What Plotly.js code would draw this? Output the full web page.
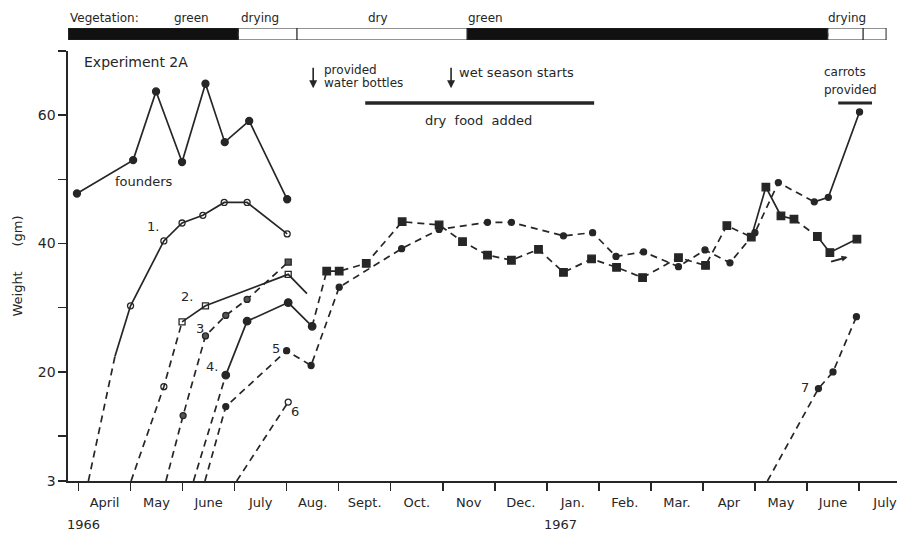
<!DOCTYPE html>
<html><head><meta charset="utf-8">
<script src="https://cdn.plot.ly/plotly-3.0.1.min.js"></script>
<style>html,body{margin:0;padding:0;background:#fff}#chart{width:911px;height:533px}</style>
</head><body><div id="chart"></div>
<script>
// x unit: months, 0 = 1 April 1966, 4 = 1 Aug 1966, 9 = 1 Jan 1967, 15 = 1 July 1967
// y unit: body weight in grams (3 = birth baseline)
const monthLabels = ["April","May","June","July","Aug.","Sept.","Oct.","Nov","Dec.","Jan.","Feb.","Mar.","Apr","May","June","July"];
const yearLabels = ["1966","1967"];

const foundersX = [-0.03,1.05,1.49,1.99,2.44,2.81,3.28,4.01];
const foundersY = [47.8,53.0,63.7,52.7,64.9,55.8,59.1,46.9];

const s1X = [0.19,0.70,1.00,1.64,1.99,2.39,2.80,3.24,4.01];
const s1Y = [3,22.4,30.3,40.4,43.2,44.4,46.4,46.4,41.5];

const s2X = [1.01,1.64,1.99,2.44,4.03,4.39];
const s2Y = [3,17.7,27.8,30.3,35.2,32.2];

const s3X = [1.68,2.01,2.44,2.83,3.24,4.03];
const s3Y = [3,13.2,25.6,28.8,31.3,37.1];

const s4X = [2.21,2.83,3.24,4.03,4.49,4.77,5.01,5.53,6.22,6.93,7.38,7.86,8.32,8.84,9.32,9.86,10.34,10.84,11.53,12.05,12.46,12.93,13.21,13.50,13.75,14.20,14.44,14.96];
const s4Y = [3,19.5,27.9,30.8,27.1,35.7,35.7,36.9,43.4,42.9,40.3,38.2,37.4,39.1,35.5,37.6,36.3,34.7,37.8,36.6,42.8,41.0,48.8,44.3,43.8,41.1,38.6,40.7];

const s5X = [2.43,2.83,4.00,4.47,5.01,6.21,6.93,7.86,8.32,9.32,9.88,10.33,10.86,11.53,12.04,12.52,13.00,13.45,14.14,14.41,15.01];
const s5Y = [3,14.6,23.3,21.0,33.2,39.2,42.2,43.3,43.3,41.2,41.7,38.0,38.7,36.4,39.0,37.0,41.7,49.5,46.5,47.2,60.5];

const s6X = [3.04,4.03];
const s6Y = [3,15.3];

const s7X = [13.24,14.22,14.50,14.95];
const s7Y = [3,17.4,20.0,28.6];

// vegetation state periods (months)
const vegStart = [-0.2,3.07,4.20,7.47,14.40,15.08];
const vegEnd   = [3.07,4.20,7.47,14.40,15.08,15.52];
const vegState = ["green","drying","dry","green","drying","none"];

// ---- styles (kept separate from the values) ----
const ink = '#262626';
const D = 'd', S = 's';
const segStyles = {
  f:  [S,S,S,S,S,S,S],
  s1: [D,S,S,S,S,S,S,S],
  s2: [D,D,S,S,S],
  s3: [D,D,D,D,D],
  s4: [D,S,S,S,D, D,D,D,D,D,D,D,D,D,D,D,D,D,D,D,D, S,S,S,D,S,S],
  s5: [D,D,D,D,D,D,D,D,D,D,D,D,D,D,D,D,D,D,S,S],
  s6: [D],
  s7: [D,D,D]
};
const N = null;
const symStyles = {
  f:  ['circle','circle','circle','circle','circle','circle','circle','circle'],
  s1: [N,N,'circle-open','circle-open','circle-open','circle-open','circle-open','circle-open','circle-open'],
  s2: [N,'circle-open','square-open','square-open','square-open',N],
  s3: [N,'circle','circle','circle','circle','square'],
  s4: [N,'circle','circle','circle','circle'].concat(new Array(23).fill('square')),
  s5: [N].concat(new Array(20).fill('circle')),
  s6: [N,'circle-open'],
  s7: [N,'circle','circle','circle']
};
const markerFill = {f: ink, s1: ink, s2: ink, s3: '#555', s4: ink, s5: ink, s6: ink, s7: ink};
const markerSize = {f: 7, s1: 6, s2: 6, s3: 6, s4: 7.5, s5: 6, s6: 6, s7: 6};

const traces = [];
function addSeries(key, xs, ys) {
  const segs = segStyles[key];
  let i = 0;
  while (i < segs.length) {
    let j = i;
    while (j + 1 < segs.length && segs[j + 1] === segs[i]) j++;
    traces.push({type:'scatter', mode:'lines', x: xs.slice(i, j + 2), y: ys.slice(i, j + 2),
      line:{color: ink, width: 1.7, dash: segs[i] === D ? '7px,5px' : 'solid'}, hoverinfo:'skip'});
    i = j + 1;
  }
  const mx = [], my = [], ms = [];
  symStyles[key].forEach((s, k) => { if (s) { mx.push(xs[k]); my.push(ys[k]); ms.push(s); } });
  traces.push({type:'scatter', mode:'markers', x: mx, y: my,
    marker:{symbol: ms, size: markerSize[key], color: markerFill[key], line:{color: ink, width: 1.3}}});
}
addSeries('f', foundersX, foundersY);
addSeries('s1', s1X, s1Y);
addSeries('s2', s2X, s2Y);
addSeries('s3', s3X, s3Y);
addSeries('s4', s4X, s4Y);
addSeries('s5', s5X, s5Y);
addSeries('s6', s6X, s6Y);
addSeries('s7', s7X, s7Y);

// vegetation bar (top strip)
traces.push({
  type:'bar', orientation:'h', xaxis:'x', yaxis:'y2',
  base: vegStart, x: vegEnd.map((e, k) => e - vegStart[k]), y: vegState.map(() => 0),
  width: 1, hoverinfo:'skip',
  marker:{
    color: vegState.map(s => s === 'green' ? '#111' : '#fff'),
    line:{color: ink, width: 1},
    pattern:{shape: vegState.map(s => s === 'drying' ? '/' : ''), fgcolor:'#222', bgcolor:'#fff', size: 5, solidity: 0.5}
  }
});

const F = 'DejaVu Sans, Arial, sans-serif';
function txt(text, x, y, o) {
  return Object.assign({text: text, x: x, y: y, xref:'x', yref:'y', showarrow:false,
    xanchor:'center', yanchor:'middle',
    font:{family: F, size: 13, color: ink}}, o || {});
}
const annotations = [
  txt('Experiment 2A', 0.07, 68.3, {xanchor:'left', font:{family:F, size:14, color:ink}}),
  txt('founders', 1.26, 49.6, {font:{family:F, size:13, color:ink}}),
  txt('1.', 1.43, 42.6), txt('2.', 2.09, 31.7), txt('3', 2.34, 26.8), txt('4.', 2.57, 20.8),
  txt('5', 3.80, 23.6), txt('6', 4.16, 13.8), txt('7', 13.96, 17.5),
  txt('provided', 4.68, 67.0, {xanchor:'left', font:{family:F, size:12, color:ink}}),
  txt('water bottles', 4.68, 65.0, {xanchor:'left', font:{family:F, size:12, color:ink}}),
  txt('wet season starts', 7.27, 66.6, {xanchor:'left', font:{family:F, size:13, color:ink}}),
  txt('dry  food  added', 7.68, 59.1),
  txt('carrots', 14.73, 66.7, {font:{family:F, size:12, color:ink}}),
  txt('provided', 14.83, 63.9, {font:{family:F, size:12, color:ink}}),
  // arrows
  {x: 4.51, y: 64.2, xref:'x', yref:'y', text:'', showarrow:true, arrowhead:2, arrowsize:1, arrowwidth:1.6, arrowcolor:ink, ax:0, ay:-22},
  {x: 7.16, y: 64.2, xref:'x', yref:'y', text:'', showarrow:true, arrowhead:2, arrowsize:1, arrowwidth:1.6, arrowcolor:ink, ax:0, ay:-22},
  {x: 14.78, y: 37.9, xref:'x', yref:'y', text:'', showarrow:true, arrowhead:2, arrowsize:0.6, arrowwidth:2, arrowcolor:ink, ax:-18, ay:5},
  // vegetation labels
  {text:'Vegetation:', x:0, y:1.022, xref:'paper', yref:'paper', xanchor:'left', yanchor:'middle', showarrow:false, font:{family:F, size:12, color:ink}},
  txt('green', 2.18, 1.022, {yref:'paper', font:{family:F, size:12, color:ink}}),
  txt('drying', 3.49, 1.022, {yref:'paper', font:{family:F, size:12, color:ink}}),
  txt('dry', 5.76, 1.022, {yref:'paper', font:{family:F, size:12, color:ink}}),
  txt('green', 7.83, 1.022, {yref:'paper', font:{family:F, size:12, color:ink}}),
  txt('drying', 14.77, 1.022, {yref:'paper', font:{family:F, size:12, color:ink}}),
  // years
  txt(yearLabels[0], 0.09, -0.096, {yref:'paper', font:{family:F, size:13, color:ink}}),
  txt(yearLabels[1], 9.27, -0.096, {yref:'paper', font:{family:F, size:13, color:ink}})
];

const shapes = [
  {type:'line', xref:'x', yref:'y', x0:5.51, x1:9.91, y0:61.9, y1:61.9, line:{color:ink, width:3.5}},
  {type:'line', xref:'x', yref:'y', x0:14.60, x1:15.25, y0:61.9, y1:61.9, line:{color:ink, width:3}}
];

const layout = {
  width: 911, height: 533,
  margin:{l:68, r:14, t:28, b:52, pad:0},
  paper_bgcolor:'#fff', plot_bgcolor:'#fff',
  showlegend:false,
  font:{family:F, size:13, color:ink},
  xaxis:{
    range:[-0.202, 15.73], domain:[0,1], showgrid:false, zeroline:false,
    showline:true, linecolor:ink, linewidth:1.6,
    tickmode:'array', tickvals: monthLabels.map((m, k) => k + 0.5), ticktext: monthLabels,
    ticks:'outside', ticklen:9, tickcolor:'rgba(0,0,0,0)',
    tickfont:{family:F, size:13, color:ink},
    minor:{tickmode:'linear', tick0:0, dtick:1, ticks:'outside', ticklen:8, tickwidth:1.5, tickcolor:ink, showgrid:false},
    fixedrange:true
  },
  yaxis:{
    range:[3, 70], domain:[0, 0.9492], showgrid:false, zeroline:false,
    showline:true, linecolor:ink, linewidth:1.6,
    tickmode:'array', tickvals:[3,10,20,30,40,50,60,70], ticktext:['3','','20','','40','','60',''],
    ticks:'outside', ticklen:8, tickwidth:1.5, tickcolor:ink,
    tickfont:{family:F, size:14, color:ink},
    title:{text:'Weight&nbsp;&nbsp;&nbsp;&nbsp;&nbsp;&nbsp;(gm)', font:{family:F, size:13, color:ink}, standoff:12},
    automargin:false, fixedrange:true
  },
  yaxis2:{domain:[0.9735, 1], anchor:'x', range:[-0.5, 0.5], visible:false, fixedrange:true},
  annotations: annotations,
  shapes: shapes
};

Plotly.newPlot('chart', traces, layout, {staticPlot:true, displayModeBar:false});
</script></body></html>
